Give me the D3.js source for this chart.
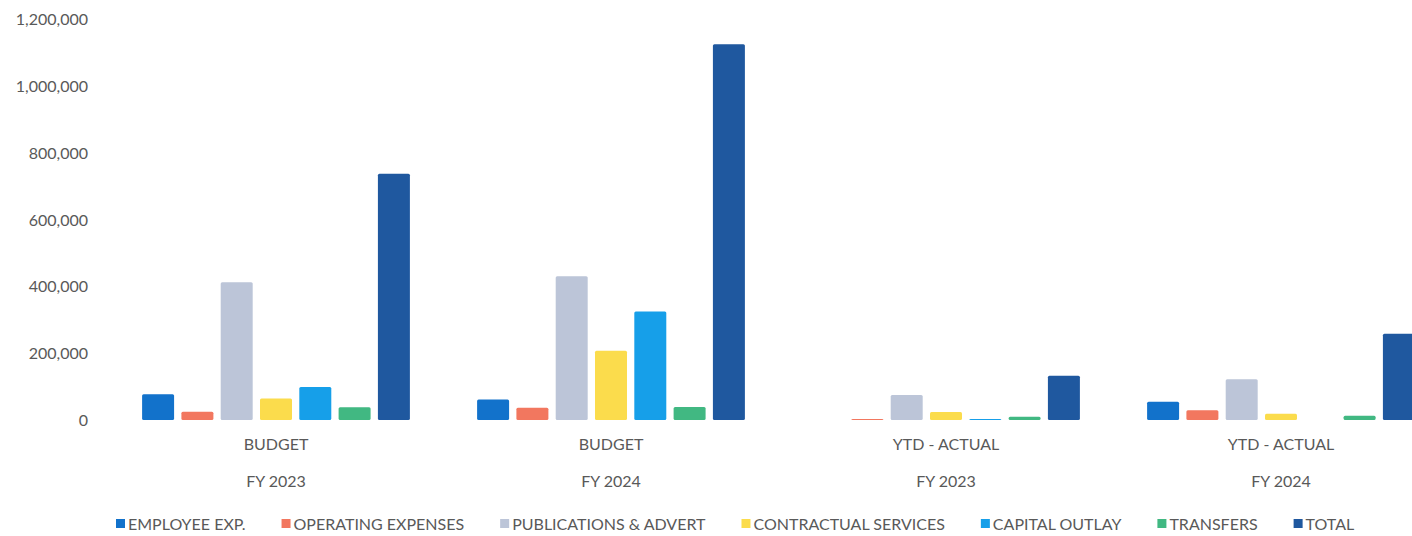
<!DOCTYPE html>
<html>
<head>
<meta charset="utf-8">
<script src="https://cdn.jsdelivr.net/npm/d3@7/dist/d3.min.js"></script>
<style>
  html, body { margin: 0; padding: 0; background: #ffffff; }
  svg { display: block; }
  text { font-family: Lato, "Open Sans", "Liberation Sans", sans-serif; fill: #595959; }
</style>
</head>
<body>
<svg id="chart" width="1412" height="536"></svg>
<script>
// ---- data ----
const categories = ["BUDGET", "BUDGET", "YTD - ACTUAL", "YTD - ACTUAL"];
const years = ["FY 2023", "FY 2024", "FY 2023", "FY 2024"];
const seriesNames = ["EMPLOYEE EXP.", "OPERATING EXPENSES", "PUBLICATIONS & ADVERT",
  "CONTRACTUAL SERVICES", "CAPITAL OUTLAY", "TRANSFERS", "TOTAL"];
const employee = [77000, 61500, 0, 54500];
const operating = [25000, 36500, 3000, 29000];
const publications = [412000, 430000, 75000, 122000];
const contractual = [64500, 207000, 24000, 19000];
const capital = [99000, 324000, 3000, 0];
const transfers = [38000, 38500, 10000, 13000];
const total = [736000, 1123000, 132000, 258000];
const yTicks = [0, 200000, 400000, 600000, 800000, 1000000, 1200000];
const colors = ["#1272cb", "#f2775f", "#bcc5d8", "#fbdc4c", "#169fe9", "#41b882", "#1f589f"];

const seriesValues = [employee, operating, publications, contractual, capital, transfers, total];

// ---- layout ----
const svg = d3.select("#chart");
const groupIdx = categories.map((d, i) => i);

const x0 = d3.scaleBand().domain(groupIdx).range([108.5, 108.5 + 4 * 335]).paddingInner(0).paddingOuter(0);
const x1 = d3.scaleBand().domain(d3.range(seriesNames.length)).range([0, x0.bandwidth()])
  .paddingInner(0.186).paddingOuter(0.855);
const y = d3.scaleLinear().domain([0, 1200000]).range([420, 18.5]);

// y axis
const yAxis = d3.axisLeft(y).tickValues(yTicks).tickFormat(d3.format(",")).tickSize(0).tickPadding(0);
const ga = svg.append("g").attr("transform", "translate(88,0)").call(yAxis);
ga.select(".domain").remove();
ga.selectAll("text").style("font-size", "16px").style("font-family", "Lato, 'Open Sans', sans-serif")
  .attr("fill", "#595959").attr("dy", "0.36em");

// bars
const groups = svg.append("g").selectAll("g").data(groupIdx).join("g")
  .attr("transform", d => `translate(${x0(d)},0)`);
groups.selectAll("rect")
  .data(g => seriesValues.map((arr, s) => ({ s, v: arr[g] })))
  .join("rect")
  .attr("x", d => x1(d.s))
  .attr("width", x1.bandwidth())
  .attr("y", d => y(d.v))
  .attr("height", d => Math.max(0, y(0) - y(d.v)))
  .attr("rx", 1.5)
  .attr("fill", d => colors[d.s]);

// category labels (two levels)
const labels = svg.append("g");
labels.selectAll("text.cat").data(groupIdx).join("text")
  .attr("class", "cat")
  .attr("x", d => x0(d) + x0.bandwidth() / 2)
  .attr("y", 444)
  .attr("dy", "0.36em")
  .attr("text-anchor", "middle")
  .style("font-size", "16px")
  .text(d => categories[d]);
labels.selectAll("text.yr").data(groupIdx).join("text")
  .attr("class", "yr")
  .attr("x", d => x0(d) + x0.bandwidth() / 2)
  .attr("y", 481)
  .attr("dy", "0.36em")
  .attr("text-anchor", "middle")
  .style("font-size", "16px")
  .text(d => years[d]);

// legend
const legend = svg.append("g").attr("transform", "translate(0,524)");
let lx = 116;
const gap = 36;
seriesNames.forEach((name, i) => {
  const item = legend.append("g").attr("transform", `translate(${lx},0)`);
  item.append("rect").attr("x", 0).attr("y", -5).attr("width", 9).attr("height", 9).attr("fill", colors[i]);
  const t = item.append("text").attr("x", 12).attr("y", 0).attr("dy", "0.36em")
    .style("font-size", "16px").text(name);
  const w = t.node().getComputedTextLength();
  lx += 12 + w + gap;
});
</script>
</body>
</html>
